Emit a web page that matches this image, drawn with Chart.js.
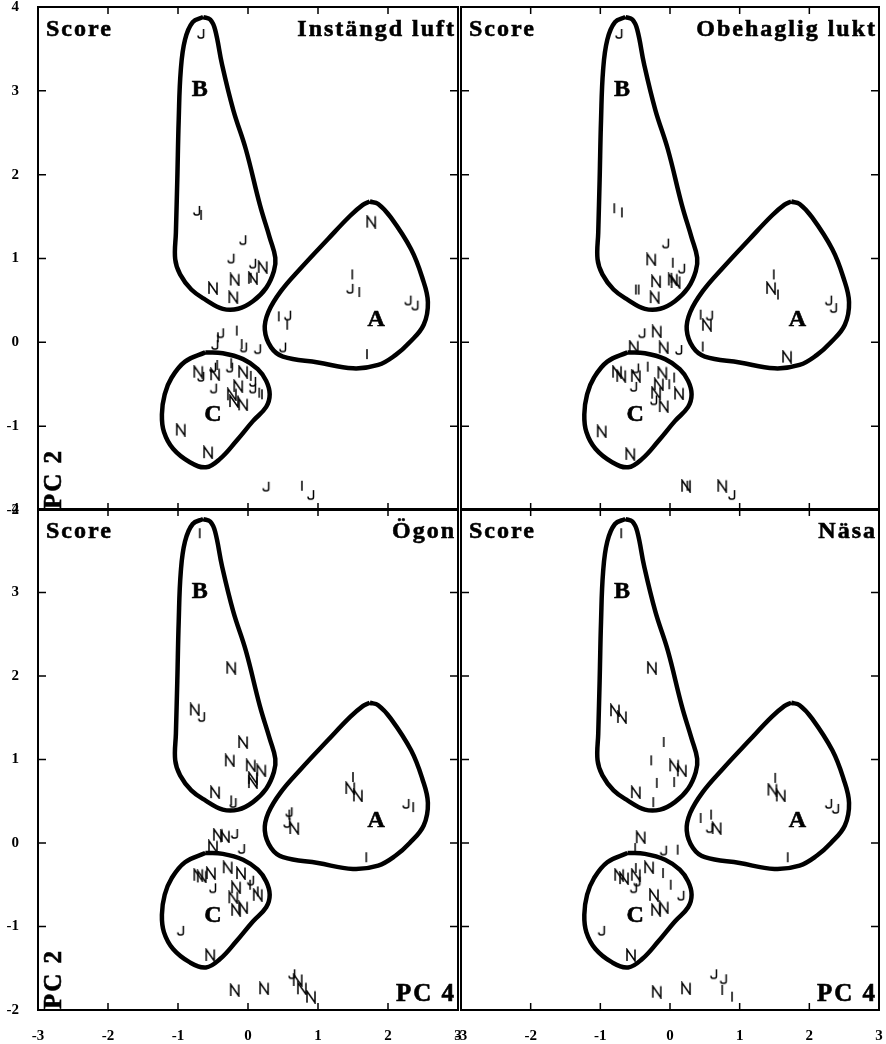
<!DOCTYPE html>
<html>
<head>
<meta charset="utf-8">
<script src="https://cdn.jsdelivr.net/npm/chart.js@4.4.1/dist/chart.umd.min.js"></script>
<style>
  body { margin: 0; background: #fff; }
  #wrap { position: relative; width: 886px; height: 1044px; }
  #wrap canvas { position: absolute; left: 0; top: 0; }
</style>
</head>
<body>
<div id="wrap">
  <canvas id="c1" width="886" height="1044"></canvas>
  <canvas id="c2" width="886" height="1044"></canvas>
  <canvas id="c3" width="886" height="1044"></canvas>
  <canvas id="c4" width="886" height="1044"></canvas>
</div>
<script>
// axes
const xTicks = [-3, -2, -1, 0, 1, 2, 3];
const yTicks = [-2, -1, 0, 1, 2, 3, 4];
const panelTitles = ['Instängd luft', 'Obehaglig lukt', 'Ögon', 'Näsa'];

// group outlines (PC4, PC2)
const outlineA = [
  [1.74, 1.68], [1.86, 1.65], [2.04, 1.49], [2.33, 1.11], [2.49, 0.77], [2.57, 0.48],
  [2.51, 0.21], [2.31, 0.00], [2.11, -0.15], [1.86, -0.27], [1.50, -0.31], [1.00, -0.24],
  [0.50, -0.17], [0.33, -0.06], [0.24, 0.15], [0.29, 0.36], [0.47, 0.61], [0.76, 0.89],
  [1.14, 1.23], [1.46, 1.51], [1.64, 1.64], [1.74, 1.68]
];
const outlineB = [
  [-0.64, 3.88], [-0.79, 3.82], [-0.90, 3.61], [-0.96, 3.25], [-0.99, 2.65], [-1.01, 1.94],
  [-1.03, 1.31], [-1.04, 0.99], [-0.97, 0.81], [-0.81, 0.63], [-0.61, 0.51], [-0.36, 0.40],
  [-0.14, 0.40], [0.07, 0.49], [0.26, 0.65], [0.37, 0.85], [0.39, 1.01], [0.31, 1.25],
  [0.17, 1.64], [-0.03, 2.30], [-0.21, 2.77], [-0.37, 3.31], [-0.47, 3.73], [-0.54, 3.85],
  [-0.64, 3.88]
];
const outlineC = [
  [-0.61, -0.12], [-0.36, -0.13], [-0.07, -0.20], [0.14, -0.32], [0.26, -0.46], [0.31, -0.62],
  [0.26, -0.77], [0.07, -0.94], [-0.17, -1.18], [-0.40, -1.39], [-0.60, -1.49], [-0.83, -1.43],
  [-1.07, -1.27], [-1.20, -1.07], [-1.23, -0.86], [-1.19, -0.62], [-1.09, -0.42], [-0.90, -0.23],
  [-0.61, -0.12]
];
const groupNames = ['A', 'B', 'C'];
const groupCentres = [[1.83, 0.27], [-0.69, 3.01], [-0.50, -0.87]];

// scores, one list per answer letter
const luftJ = [[-0.67, 3.69], [-0.73, 1.58], [-0.07, 1.23], [-0.24, 1.01], [0.07, 0.95], [1.46, 0.65],
  [2.29, 0.51], [2.39, 0.45], [0.57, 0.33], [0.50, -0.05], [-0.39, 0.12], [-0.47, -0.02],
  [-0.06, -0.05], [0.14, -0.07], [-0.67, -0.40], [-0.50, -0.29], [-0.49, -0.54], [-0.26, -0.29],
  [0.07, -0.46], [0.07, -0.54], [0.26, -1.71], [0.90, -1.81]];
const luftI = [[-0.67, 1.52], [0.04, 0.77], [1.49, 0.81], [1.59, 0.60], [0.44, 0.31], [0.56, 0.21],
  [1.70, -0.14], [-0.16, 0.14], [-0.09, -0.02], [-0.43, 0.06], [0.16, -0.60], [0.20, -0.62],
  [-0.44, -0.27], [0.77, -1.71], [0.04, -0.40], [-0.24, -0.25]];
const luftN = [[1.76, 1.44], [0.21, 0.90], [-0.19, 0.75], [0.07, 0.77], [-0.50, 0.65], [-0.21, 0.54],
  [-0.71, -0.35], [-0.47, -0.38], [-0.07, -0.35], [-0.14, -0.52], [-0.23, -0.62], [-0.20, -0.70],
  [-0.07, -0.74], [-0.96, -1.04], [-0.57, -1.31]];

const luktJ = [[-0.73, 3.69], [-0.06, 1.19], [0.17, 0.89], [2.28, 0.51], [2.35, 0.42], [0.57, 0.33],
  [-0.40, 0.12], [0.13, -0.08], [-0.49, -0.30], [-0.52, -0.52], [-0.23, -0.68], [0.89, -1.81]];
const luktI = [[-0.80, 1.60], [-0.69, 1.55], [0.04, 0.95], [0.02, 0.77], [-0.49, 0.63], [-0.45, 0.63],
  [1.49, 0.81], [1.55, 0.57], [0.44, 0.33], [0.47, -0.05], [-0.32, -0.29], [0.06, -0.42],
  [-0.01, -0.50], [0.25, -1.71]];
const luktN = [[-0.27, 0.99], [-0.20, 0.73], [0.04, 0.75], [0.08, 0.72], [-0.22, 0.54], [1.45, 0.65],
  [0.53, 0.21], [1.68, -0.17], [-0.19, 0.13], [-0.52, -0.05], [-0.09, -0.06], [-0.76, -0.35],
  [-0.70, -0.40], [-0.49, -0.40], [-0.11, -0.36], [-0.16, -0.50], [0.13, -0.61], [-0.20, -0.60],
  [-0.09, -0.76], [-0.98, -1.06], [-0.57, -1.33], [0.23, -1.71], [0.75, -1.71]];

const ogonJ = [[-0.66, 1.52], [-0.21, 0.49], [2.26, 0.48], [0.56, 0.25], [0.59, 0.38], [-0.19, 0.12],
  [-0.09, -0.06], [-0.50, -0.53], [0.04, -0.44], [-0.96, -1.04], [0.63, -1.56]];
const ogonI = [[-0.69, 3.71], [-0.24, 0.51], [1.50, 0.79], [2.36, 0.43], [0.59, 0.34], [1.69, -0.17],
  [0.03, -0.50], [0.14, -0.58]];
const ogonN = [[-0.24, 2.10], [-0.76, 1.60], [-0.07, 1.21], [-0.26, 0.99], [0.04, 0.93], [0.19, 0.87],
  [0.07, 0.73], [0.07, 0.78], [-0.47, 0.61], [1.46, 0.66], [1.57, 0.57], [0.66, 0.18],
  [-0.43, 0.10], [-0.33, 0.08], [-0.50, -0.04], [-0.71, -0.38], [-0.66, -0.40], [-0.53, -0.36],
  [-0.29, -0.29], [-0.10, -0.36], [-0.17, -0.53], [-0.21, -0.65], [0.14, -0.62], [-0.17, -0.80],
  [-0.07, -0.77], [-0.54, -1.34], [-0.19, -1.76], [0.23, -1.74], [0.71, -1.64], [0.77, -1.74],
  [0.90, -1.84]];

const nasaJ = [[2.28, 0.48], [2.38, 0.42], [0.57, 0.19], [-0.09, -0.08], [-0.52, -0.53], [-0.47, -0.45],
  [0.16, -0.62], [-0.98, -1.04], [0.63, -1.56], [0.77, -1.62]];
const nasaI = [[-0.70, 3.71], [-0.09, 1.21], [-0.27, 0.99], [-0.19, 0.72], [0.06, 0.73], [-0.24, 0.49],
  [1.51, 0.78], [0.44, 0.30], [0.59, 0.34], [1.69, -0.17], [-0.50, -0.06], [0.11, -0.08],
  [-0.49, -0.30], [-0.10, -0.36], [0.01, -0.50], [0.75, -1.76], [0.89, -1.84]];
const nasaN = [[-0.26, 2.10], [-0.79, 1.59], [-0.69, 1.51], [0.06, 0.93], [0.17, 0.87], [-0.49, 0.61],
  [1.47, 0.64], [1.59, 0.57], [0.67, 0.18], [-0.42, 0.07], [-0.73, -0.38], [-0.66, -0.42],
  [-0.49, -0.38], [-0.30, -0.29], [-0.23, -0.62], [-0.20, -0.80], [-0.09, -0.77], [-0.56, -1.34],
  [-0.19, -1.78], [0.23, -1.74]];

const serif = '"Liberation Serif", "Times New Roman", serif';

// letter markers drawn as strokes so they stay crisp and black
function glyph(strokes) {
  let c = document.createElement('canvas');
  c.width = 12;
  c.height = 14;
  let g = c.getContext('2d');
  g.strokeStyle = '#000';
  g.lineWidth = 1.5;
  g.lineCap = 'butt';
  g.lineJoin = 'miter';
  strokes(g);
  return c;
}
const glyphN = glyph(function (g) {
  g.beginPath();
  g.moveTo(2, 13); g.lineTo(2, 1.5); g.lineTo(10, 13); g.lineTo(10, 1.5);
  g.stroke();
});
const glyphI = glyph(function (g) {
  g.beginPath();
  g.moveTo(6, 2); g.lineTo(6, 12);
  g.stroke();
});
const glyphJ = glyph(function (g) {
  g.beginPath();
  g.moveTo(8.5, 3); g.lineTo(8.5, 10);
  g.quadraticCurveTo(8.5, 12, 6.5, 12);
  g.lineTo(5, 12);
  g.quadraticCurveTo(3, 12, 3, 9.5);
  g.stroke();
});

function pts(list) {
  return list.map(function (p) { return { x: p[0], y: p[1] }; });
}

function outlineSet(list) {
  return {
    data: pts(list),
    showLine: true,
    borderColor: '#000',
    borderWidth: 4.5,
    tension: 0.4,
    pointRadius: 0,
    fill: false
  };
}

function letterSet(list, img) {
  return {
    data: pts(list),
    showLine: false,
    pointStyle: img,
    pointRadius: 4
  };
}

// heavier serif text, like the printed labels
function boldText(ctx, text, x, y) {
  ctx.fillText(text, x, y);
  ctx.strokeText(text, x, y);
}

// frame, inward ticks and panel texts
const panelPlugin = {
  id: 'panel',
  afterDatasetsDraw(chart, args, opts) {
    const ctx = chart.ctx;
    const a = chart.chartArea;
    const xs = chart.scales.x, ys = chart.scales.y;
    ctx.save();
    ctx.strokeStyle = '#000';
    ctx.fillStyle = '#000';
    ctx.lineWidth = 2;
    ctx.strokeRect(a.left, a.top, a.right - a.left, a.bottom - a.top);
    ctx.lineWidth = 1.5;
    ctx.beginPath();
    xTicks.slice(1, -1).forEach(function (v) {
      let px = xs.getPixelForValue(v);
      ctx.moveTo(px, a.top); ctx.lineTo(px, a.top + 7);
      ctx.moveTo(px, a.bottom); ctx.lineTo(px, a.bottom - 7);
    });
    yTicks.slice(1, -1).forEach(function (v) {
      let py = ys.getPixelForValue(v);
      ctx.moveTo(a.left, py); ctx.lineTo(a.left + 8, py);
      ctx.moveTo(a.right, py); ctx.lineTo(a.right - 8, py);
    });
    ctx.stroke();

    ctx.lineWidth = 0.6;
    ctx.font = 'bold 24px ' + serif;
    ctx.letterSpacing = '2px';
    ctx.textBaseline = 'alphabetic';
    ctx.textAlign = 'left';
    boldText(ctx, 'Score', a.left + 8, a.top + 29);
    ctx.textAlign = 'right';
    boldText(ctx, opts.title, a.right - 2, a.top + 29);
    if (opts.pc4) {
      ctx.font = 'bold 25px ' + serif;
      boldText(ctx, 'PC 4', a.right - 2, a.bottom - 9);
    }
    if (opts.pc2) {
      ctx.save();
      ctx.beginPath();
      ctx.rect(a.left, a.top, a.right - a.left, a.bottom - a.top);
      ctx.clip();
      ctx.font = 'bold 25px ' + serif;
      ctx.translate(a.left + 23, a.bottom - 1);
      ctx.rotate(-Math.PI / 2);
      ctx.textAlign = 'left';
      boldText(ctx, 'PC 2', 0, 0);
      ctx.restore();
    }

    ctx.letterSpacing = '0px';
    ctx.font = 'bold 24px ' + serif;
    ctx.textAlign = 'center';
    ctx.textBaseline = 'middle';
    groupNames.forEach(function (name, i) {
      boldText(ctx, name, xs.getPixelForValue(groupCentres[i][0]), ys.getPixelForValue(groupCentres[i][1]));
    });
    ctx.restore();
  }
};

function zeroPad(scale) {
  scale.paddingTop = 0;
  scale.paddingBottom = 0;
  scale.paddingLeft = 0;
  scale.paddingRight = 0;
}

function makePanel(id, title, J, I, N, left, top) {
  const padding = left
    ? { left: 0, right: 428 }
    : { left: 461, right: 7 };
  if (top) { padding.top = 7; padding.bottom = 534; } else { padding.top = 509; padding.bottom = 0; }
  const tickFont = { family: serif, weight: 'bold', size: 15 };
  new Chart(document.getElementById(id), {
    type: 'scatter',
    data: {
      datasets: [
        outlineSet(outlineA), outlineSet(outlineB), outlineSet(outlineC),
        letterSet(J, glyphJ), letterSet(I, glyphI), letterSet(N, glyphN)
      ]
    },
    options: {
      responsive: false,
      animation: false,
      events: [],
      layout: { padding: padding },
      plugins: {
        legend: { display: false },
        tooltip: { enabled: false },
        panel: { title: title, pc2: left, pc4: !top }
      },
      scales: {
        x: {
          type: 'linear', min: -3, max: 3,
          display: !top,
          grid: { display: false, drawTicks: false },
          border: { display: false },
          ticks: { stepSize: 1, padding: 17, color: '#000', font: tickFont },
          afterFit: function (s) { s.height = top ? 0 : 34; zeroPad(s); }
        },
        y: {
          type: 'linear', min: -2, max: 4,
          display: left,
          grid: { display: false, drawTicks: false },
          border: { display: false },
          ticks: { stepSize: 1, padding: 19, color: '#000', font: tickFont },
          afterFit: function (s) { s.width = left ? 38 : 0; zeroPad(s); }
        }
      }
    },
    plugins: [panelPlugin]
  });
}

makePanel('c1', panelTitles[0], luftJ, luftI, luftN, true, true);
makePanel('c2', panelTitles[1], luktJ, luktI, luktN, false, true);
makePanel('c3', panelTitles[2], ogonJ, ogonI, ogonN, true, false);
makePanel('c4', panelTitles[3], nasaJ, nasaI, nasaN, false, false);
</script>
</body>
</html>
